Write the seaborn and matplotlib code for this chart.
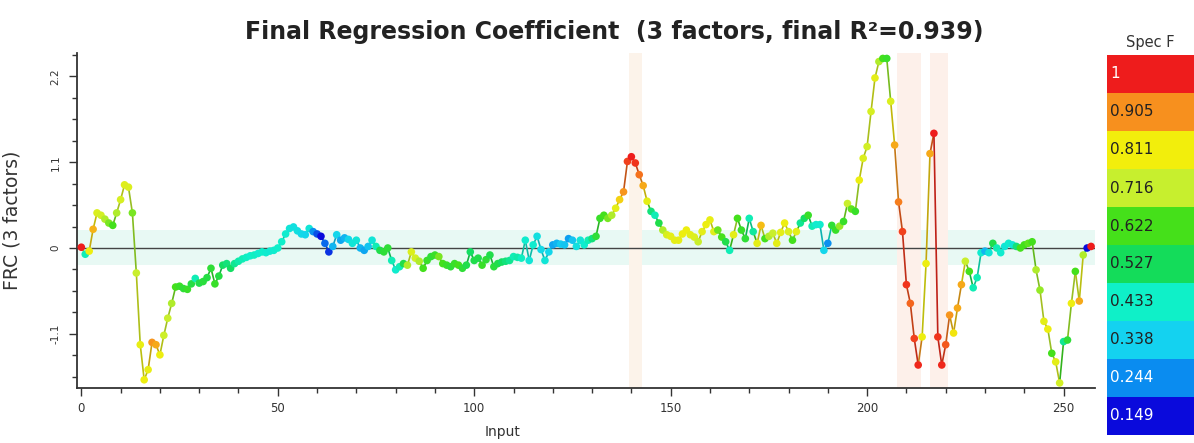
import numpy as np
import pandas as pd
import matplotlib
matplotlib.use("Agg")
import matplotlib.pyplot as plt
import seaborn as sns
from matplotlib.colors import LinearSegmentedColormap
from matplotlib.collections import LineCollection
from matplotlib.ticker import MultipleLocator

# ---------------- data ----------------
frc_0_50 = [0.01, -0.08, -0.04, 0.24, 0.45, 0.42, 0.37, 0.32, 0.29, 0.45,
            0.62, 0.81, 0.78, 0.45, -0.32, -1.24, -1.69, -1.56, -1.21, -1.24,
            -1.37, -1.12, -0.90, -0.71, -0.50, -0.49, -0.52, -0.53, -0.46, -0.39,
            -0.45, -0.43, -0.38, -0.26, -0.46, -0.36, -0.22, -0.20, -0.26, -0.20,
            -0.17, -0.14, -0.12, -0.10, -0.09, -0.07, -0.05, -0.06, -0.04, -0.03,
            0.00]
frc_51_100 = [0.08, 0.18, 0.25, 0.27, 0.22, 0.18, 0.17, 0.25, 0.21, 0.18,
              0.15, 0.06, -0.05, 0.02, 0.17, 0.10, 0.13, 0.11, 0.06, 0.10,
              0.00, -0.03, 0.02, 0.10, 0.02, -0.03, -0.05, 0.00, -0.16, -0.28,
              -0.24, -0.20, -0.22, -0.05, -0.13, -0.17, -0.26, -0.16, -0.11, -0.09,
              -0.11, -0.20, -0.22, -0.24, -0.20, -0.22, -0.26, -0.22, -0.05, -0.16]
frc_101_151 = [-0.13, -0.22, -0.15, -0.09, -0.24, -0.20, -0.18, -0.17, -0.16, -0.11,
               -0.12, -0.13, 0.10, -0.16, 0.04, 0.15, -0.02, -0.16, -0.05, 0.04,
               0.06, 0.05, 0.04, 0.12, 0.10, 0.02, 0.10, 0.04, 0.10, 0.12,
               0.15, 0.38, 0.42, 0.38, 0.42, 0.51, 0.62, 0.72, 1.11, 1.17,
               1.09, 0.94, 0.80, 0.60, 0.47, 0.42, 0.32, 0.23, 0.17, 0.15,
               0.10]
frc_152_188 = [0.10, 0.18, 0.23, 0.17, 0.14, 0.08, 0.21, 0.30, 0.36, 0.21,
               0.23, 0.14, 0.08, -0.03, 0.17, 0.38, 0.23, 0.12, 0.38, 0.21,
               0.06, 0.29, 0.12, 0.15, 0.19, 0.06, 0.20, 0.32, 0.21, 0.10,
               0.21, 0.32, 0.38, 0.42, 0.28, 0.30, 0.30]
frc_189_257 = [-0.03, 0.06, 0.29, 0.23, 0.28, 0.34, 0.57, 0.50, 0.47, 0.87,
               1.15, 1.30, 1.75, 2.18, 2.39, 2.43, 2.43, 1.88, 1.32, 0.59,
               0.21, -0.47, -0.71, -1.16, -1.50, -1.14, -0.20, 1.21, 1.47, -1.14,
               -1.50, -1.24, -0.86, -1.09, -0.77, -0.47, -0.17, -0.30, -0.51, -0.38,
               -0.06, -0.04, -0.06, 0.06, 0.00, -0.06, 0.02, 0.06, 0.04, 0.02,
               0.00, 0.04, 0.06, 0.08, -0.28, -0.54, -0.94, -1.04, -1.35, -1.46,
               -1.73, -1.20, -1.18, -0.71, -0.30, -0.68, -0.09, 0.00, 0.02]

specf_0_50 = [1.00, 0.45, 0.80, 0.87, 0.76, 0.74, 0.70, 0.66, 0.62, 0.70,
              0.75, 0.77, 0.76, 0.66, 0.72, 0.79, 0.80, 0.79, 0.90, 0.88,
              0.80, 0.73, 0.72, 0.70, 0.62, 0.60, 0.58, 0.60, 0.56, 0.45,
              0.55, 0.57, 0.56, 0.58, 0.60, 0.56, 0.52, 0.50, 0.52, 0.48,
              0.46, 0.45, 0.44, 0.43, 0.44, 0.42, 0.43, 0.42, 0.41, 0.42,
              0.43]
specf_51_100 = [0.43, 0.42, 0.40, 0.38, 0.38, 0.36, 0.35, 0.40, 0.25, 0.20,
                0.15, 0.22, 0.18, 0.30, 0.35, 0.28, 0.30, 0.35, 0.40, 0.40,
                0.30, 0.28, 0.32, 0.40, 0.45, 0.55, 0.58, 0.58, 0.45, 0.42,
                0.45, 0.55, 0.70, 0.76, 0.74, 0.70, 0.62, 0.60, 0.58, 0.60,
                0.66, 0.62, 0.60, 0.58, 0.60, 0.62, 0.58, 0.55, 0.52, 0.55]
specf_101_151 = [0.55, 0.60, 0.58, 0.55, 0.57, 0.55, 0.52, 0.50, 0.48, 0.45,
                 0.46, 0.44, 0.42, 0.40, 0.42, 0.38, 0.36, 0.40, 0.35, 0.28,
                 0.30, 0.33, 0.32, 0.27, 0.32, 0.38, 0.40, 0.42, 0.45, 0.50,
                 0.58, 0.60, 0.62, 0.66, 0.70, 0.78, 0.84, 0.90, 0.97, 1.00,
                 0.98, 0.93, 0.88, 0.78, 0.50, 0.45, 0.55, 0.70, 0.75, 0.78,
                 0.78]
specf_152_188 = [0.78, 0.80, 0.80, 0.78, 0.76, 0.72, 0.78, 0.80, 0.79, 0.77,
                 0.65, 0.62, 0.55, 0.45, 0.78, 0.62, 0.60, 0.58, 0.45, 0.47,
                 0.78, 0.86, 0.62, 0.70, 0.72, 0.78, 0.78, 0.80, 0.76, 0.62,
                 0.78, 0.48, 0.52, 0.60, 0.45, 0.42, 0.42]
specf_189_257 = [0.35, 0.25, 0.58, 0.60, 0.68, 0.60, 0.72, 0.64, 0.60, 0.80,
                 0.76, 0.74, 0.75, 0.78, 0.70, 0.62, 0.60, 0.76, 0.88, 0.92,
                 0.97, 0.98, 0.94, 0.97, 0.99, 0.80, 0.80, 0.88, 1.00, 0.98,
                 0.99, 0.95, 0.90, 0.82, 0.88, 0.88, 0.72, 0.62, 0.45, 0.45,
                 0.42, 0.30, 0.40, 0.55, 0.45, 0.42, 0.40, 0.42, 0.40, 0.50,
                 0.62, 0.62, 0.64, 0.62, 0.70, 0.68, 0.78, 0.80, 0.62, 0.78,
                 0.74, 0.48, 0.58, 0.80, 0.62, 0.88, 0.70, 0.15, 1.00]

frc = frc_0_50 + frc_51_100 + frc_101_151 + frc_152_188 + frc_189_257
specf = specf_0_50 + specf_51_100 + specf_101_151 + specf_152_188 + specf_189_257
inputs = list(range(len(frc)))

cbar_values = [1, 0.905, 0.811, 0.716, 0.622, 0.527, 0.433, 0.338, 0.244, 0.149]
cbar_labels = ["1", "0.905", "0.811", "0.716", "0.622", "0.527", "0.433", "0.338", "0.244", "0.149"]
cbar_colors = ["#ee1c1c", "#f7901e", "#f2ee0c", "#c7ef2e", "#45e01a",
               "#14dc5a", "#0ff0c8", "#14d2f0", "#0a8cf0", "#0a0adc"]
cbar_text_colors = ["white", "#222222", "#222222", "#222222", "#222222",
                    "#222222", "#222222", "#222222", "white", "white"]

x_ticks = [0, 50, 100, 150, 200, 250]
y_ticks = [-1.1, 0, 1.1, 2.2]
y_tick_labels = ["-1.1", "0", "1.1", "2.2"]
highlight_spans = [(139.3, 142.6, "#fcf3ea"), (207.5, 213.6, "#fdf0ea"), (216.0, 220.6, "#fdf0ea")]

title = "Final Regression Coefficient  (3 factors, final R\u00b2=0.939)"

# ---------------- style ----------------
sns.set_style("ticks")
plt.rcParams["font.family"] = ["DejaVu Sans"]

W, H = 1194, 443
fig = plt.figure(figsize=(W / 100, H / 100), dpi=100)
ax = fig.add_axes([77 / W, 1 - 388 / H, (1095 - 77) / W, (388 - 53) / H])

vmin, vmax = min(cbar_values), max(cbar_values)
pos = [(v - vmin) / (vmax - vmin) for v in cbar_values[::-1]]
cmap = LinearSegmentedColormap.from_list("specf", list(zip(pos, cbar_colors[::-1])))

df = pd.DataFrame({"Input": inputs, "FRC": frc, "SpecF": specf})

# background bands
ax.axhspan(-0.22, 0.23, color="#e8f9f4", lw=0, zorder=0)
for a, b, c in highlight_spans:
    ax.axvspan(a, b, color=c, lw=0, zorder=0.5)
ax.axhline(0, color="#444444", lw=1.0, zorder=1)

# coloured connecting line
xs = df["Input"].to_numpy()
ys = df["FRC"].to_numpy()
cs = df["SpecF"].to_numpy()
segs = [[(xs[i], ys[i]), (xs[i + 1], ys[i + 1])] for i in range(len(xs) - 1)]
segcol = []
for i in range(len(xs) - 1):
    r, g, b, _ = cmap((0.5 * (cs[i] + cs[i + 1]) - vmin) / (vmax - vmin))
    segcol.append((r * 0.8, g * 0.8, b * 0.8))
ax.add_collection(LineCollection(segs, colors=segcol, linewidths=1.2, zorder=2))

sns.scatterplot(data=df, x="Input", y="FRC", hue="SpecF", palette=cmap,
                hue_norm=(vmin, vmax), s=30, edgecolor="none", legend=False,
                ax=ax, zorder=3)

ax.set_xlim(-1.1, 258.0)
ax.set_ylim(-1.795, 2.50)
ax.set_xticks(x_ticks)
ax.set_xticklabels([str(t) for t in x_ticks])
ax.xaxis.set_minor_locator(MultipleLocator(10))
ax.set_yticks(y_ticks)
ax.set_yticklabels(y_tick_labels, rotation=90, va="center")
ax.yaxis.set_minor_locator(MultipleLocator(0.275))
ax.tick_params(axis="both", which="major", direction="out", length=6, width=1,
               color="#333333", labelcolor="#333333")
ax.tick_params(axis="both", which="minor", direction="out", length=3.5, width=1,
               color="#333333")
ax.tick_params(axis="x", labelsize=8.5, pad=4)
ax.tick_params(axis="y", labelsize=7.5, pad=6)
for s in ["top", "right"]:
    ax.spines[s].set_visible(False)
for s in ["left", "bottom"]:
    ax.spines[s].set_color("#333333")
    ax.spines[s].set_linewidth(1.3)

ax.set_xlabel("")
ax.set_ylabel("FRC (3 factors)", fontsize=13.5, color="#333333")
ax.yaxis.set_label_coords(-(77 - 22) / (1095 - 77), 0.5)
fig.text(503 / W, 1 - 432 / H, "Input", ha="center", va="center",
         fontsize=10, color="#333333")

fig.text(614 / W, 1 - 32 / H, title, ha="center", va="center",
         fontsize=17, fontweight="bold", color="#222222")

# colour bar legend
cax = fig.add_axes([1107 / W, 1 - 435 / H, 87 / W, 380 / H])
n = len(cbar_values)
cax.set_xlim(0, 1)
cax.set_ylim(0, n)
for k, (lab, col, tcol) in enumerate(zip(cbar_labels, cbar_colors, cbar_text_colors)):
    cax.axhspan(n - 1 - k, n - k, color=col, lw=0)
    cax.text(0.04, n - 0.5 - k, lab, ha="left", va="center", fontsize=11, color=tcol)
cax.axis("off")
fig.text(1150 / W, 1 - 42 / H, "Spec F", ha="center", va="center", fontsize=10.5,
         color="#333333")

fig.savefig("out.png", dpi=100, facecolor="white")
